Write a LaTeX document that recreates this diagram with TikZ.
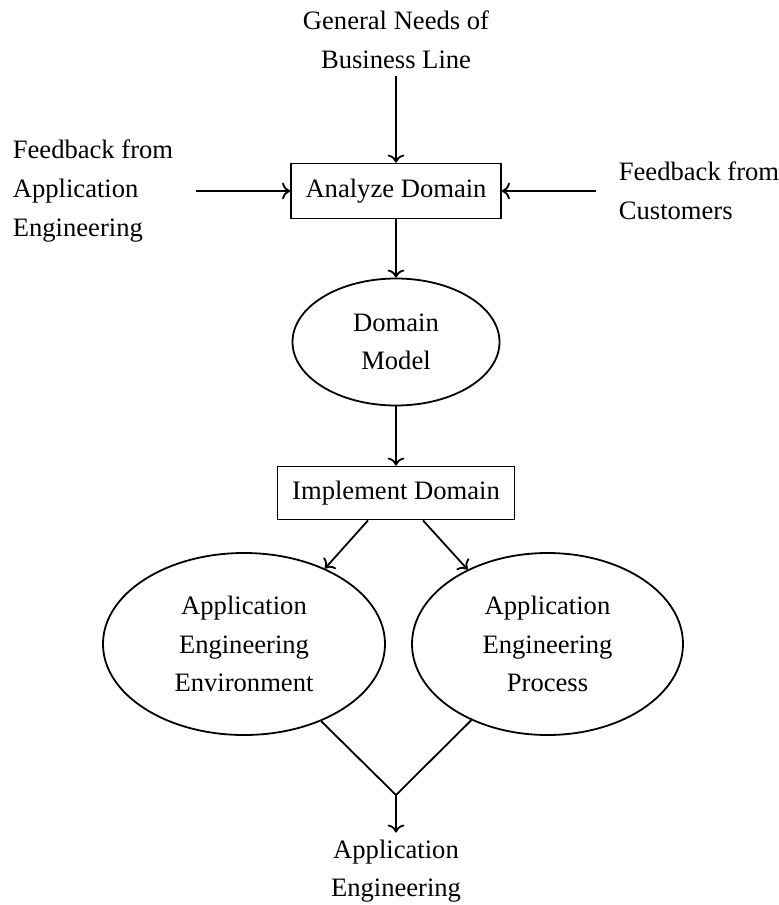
\documentclass[tikz,border=0pt]{standalone}
\usepackage{fontspec}
\setmainfont{Liberation Serif}
\usetikzlibrary{positioning, arrows.meta, shapes.geometric}

\begin{document}
\begin{tikzpicture}
    [
        x=0.5pt, y=-0.5pt, node distance=75.5pt and 151.5pt, on grid,
        font=\fontsize{13.3}{19.3}\selectfont,
        box_node/.style={rectangle, draw=black, line width=0.9pt, inner sep=0pt},
        oval_node/.style={ellipse, draw=black, line width=0.9pt, inner sep=0pt, align=center},
        text_node/.style={align=center},
        flow_arrow/.style={-{To[length=4pt]}, line width=0.9pt},
    ]
        \useasboundingbox (0,0) rectangle (779,905);
        \node[text_node] (needs) at (396,40) {General Needs of\\Business Line} ;
        \node[box_node, minimum width=105pt, minimum height=27.5pt] (analyze) [below = of needs] {Analyze Domain} ;
        \node[text_node, align=left] (fbapp) [left = of analyze] {Feedback from\\Application\\Engineering} ;
        \node[text_node, align=left] (fbcust) [right = of analyze] {Feedback from\\Customers} ;
        \node[oval_node, minimum width=103.5pt, minimum height=63.5pt] (model) [below = of analyze] {Domain\\Model} ;
        \node[box_node, minimum width=118.5pt, minimum height=26.5pt] (implement) [below = of model] {Implement Domain} ;
        \node[oval_node, minimum width=141pt, minimum height=91pt] (env) [below left = 75.5pt and 76pt of implement] {Application\\Engineering\\Environment} ;
        \node[oval_node, minimum width=135.5pt, minimum height=91pt] (proc) [below right = 75.5pt and 75.75pt of implement] {Application\\Engineering\\Process} ;
        \coordinate[below = 151pt of implement] (join) ;
        \node[text_node] (appeng) [below = 189pt of implement] {Application\\Engineering} ;
        \draw[flow_arrow] (needs) -- (analyze) ;
        \draw[flow_arrow, shorten <=8pt] (fbapp) -- (analyze) ;
        \draw[flow_arrow, shorten <=8pt] (fbcust) -- (analyze) ;
        \draw[flow_arrow] (analyze) -- (model) ;
        \draw[flow_arrow] (model) -- (implement) ;
        \draw[flow_arrow] ([xshift=-14pt]implement.south) -- (env.43) ;
        \draw[flow_arrow] ([xshift=13.5pt]implement.south) -- (proc.137) ;
        \draw[line width=0.9pt] (env.-45) -- (join) -- (proc.-135) ;
        \draw[flow_arrow] (join) -- (appeng) ;
    \end{tikzpicture}
\end{document}
